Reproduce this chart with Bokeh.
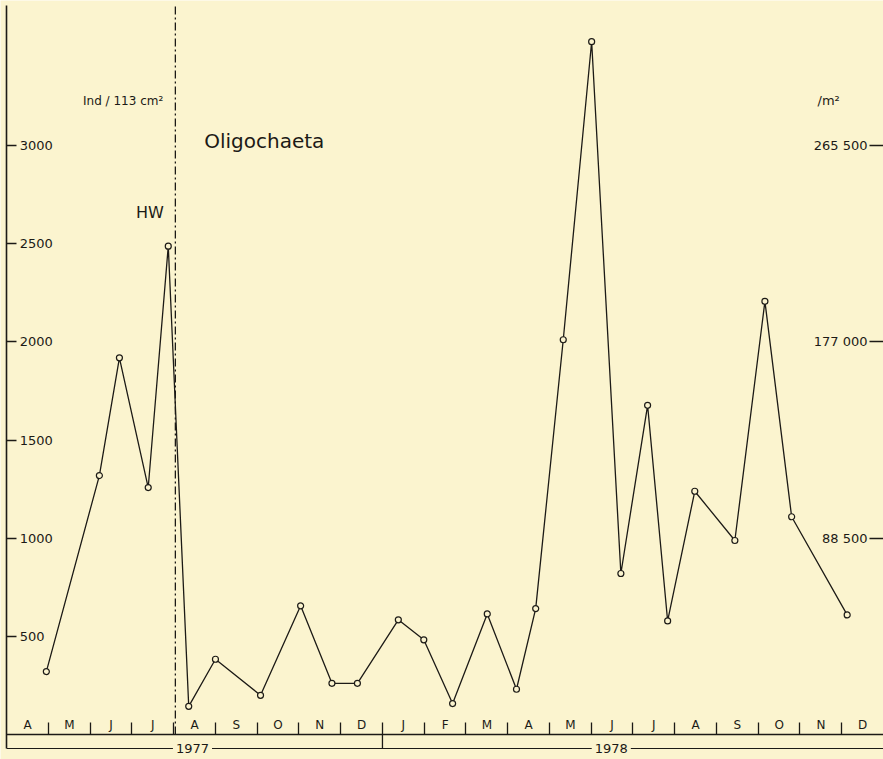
from bokeh.plotting import figure
from bokeh.models import LinearAxis, FixedTicker, Range1d, Label, ColumnDataSource, Grid
from bokeh.embed import file_html
from bokeh.resources import INLINE

# ---- data ----
month_labels = ["A", "M", "J", "J", "A", "S", "O", "N", "D",
                "J", "F", "M", "A", "M", "J", "J", "A", "S", "O", "N", "D"]
year_labels = ["1977", "1978"]
# sampling time, in months since 1 April 1977
sample_month = [0.95, 2.22, 2.70, 3.39, 3.87, 4.36, 5.00, 6.08, 7.04, 7.79, 8.40,
                9.38, 9.99, 10.68, 11.51, 12.21, 12.67, 13.33, 14.01, 14.71,
                15.35, 15.83, 16.48, 17.44, 18.16, 18.80, 20.13]
# individuals per 113 cm2
ind_per_113cm2 = [320, 1319, 1919, 1258, 2488, 143, 383, 199, 655, 260, 260,
                  584, 482, 157, 614, 230, 641, 2011, 3530, 820,
                  1677, 578, 1239, 988, 2207, 1109, 609]
left_ticks = [500, 1000, 1500, 2000, 2500, 3000]
right_ticks = [1000, 2000, 3000]
right_tick_labels = ["88 500", "177 000", "265 500"]
hw_month = 4.04  # high water mark

bg = "#fbf4cf"
ink = "#1c1a16"
font = "DejaVu Sans"

p = figure(width=883, height=759,
           x_range=Range1d(-0.148, 21.0), y_range=Range1d(-128, 3740),
           output_backend="svg", toolbar_location=None,
           x_axis_location=None, y_axis_location=None,
           min_border=0, min_border_left=0, min_border_right=0,
           min_border_top=0, min_border_bottom=0,
           background_fill_color=bg, border_fill_color=bg,
           outline_line_color=None)
for r in list(p.center):
    if isinstance(r, Grid):
        r.visible = False

# left axis: drawn at x=0, ticks and labels towards the inside
la = LinearAxis(fixed_location=0, ticker=FixedTicker(ticks=left_ticks),
                bounds=(-72, 3715),
                major_tick_in=0, major_tick_out=10,
                minor_tick_in=0, minor_tick_out=0,
                major_label_standoff=3,
                major_label_text_font=font, major_label_text_font_size="13px",
                major_label_text_color=ink,
                axis_line_color=ink, axis_line_width=1.6,
                major_tick_line_color=ink, major_tick_line_width=1.3)
p.add_layout(la, "right")

# right axis (/m2): at the right edge, labels towards the inside
ra = LinearAxis(fixed_location=21.0, ticker=FixedTicker(ticks=right_ticks),
                major_label_overrides={t: s for t, s in zip(right_ticks, right_tick_labels)},
                major_tick_in=0, major_tick_out=14,
                minor_tick_in=0, minor_tick_out=0,
                major_label_standoff=2,
                major_label_text_font=font, major_label_text_font_size="13px",
                major_label_text_color=ink,
                axis_line_color=None,
                major_tick_line_color=ink, major_tick_line_width=1.3)
p.add_layout(ra, "left")

# month axis along the zero line, letters above it, separators as minor ticks
centers = [i + 0.5 for i in range(len(month_labels))]
ma = LinearAxis(fixed_location=0,
                ticker=FixedTicker(ticks=centers,
                                   minor_ticks=list(range(1, len(month_labels)))),
                major_label_overrides={c: m for c, m in zip(centers, month_labels)},
                bounds=(0, len(month_labels)),
                major_tick_in=0, major_tick_out=0,
                minor_tick_in=0, minor_tick_out=12,
                major_label_standoff=-10,
                major_label_text_font=font, major_label_text_font_size="12px",
                major_label_text_color=ink,
                axis_line_color=ink, axis_line_width=1.3,
                minor_tick_line_color=ink, minor_tick_line_width=1.3)
p.add_layout(ma, "above")

# year row
p.line([0, len(month_labels)], [-72, -72], line_color=ink, line_width=1.2)
p.line([9, 9], [0, -72], line_color=ink, line_width=1.3)
year_centers = [4.45, 14.48]
for yc, yl in zip(year_centers, year_labels):
    p.add_layout(Label(x=yc, y=-72, text=yl, text_align="center",
                       text_baseline="middle", text_font=font,
                       text_font_size="13px", text_color=ink,
                       background_fill_color=bg, padding=3))

# high-water dash-dot line
p.line([hw_month, hw_month], [0, 3715], line_color=ink, line_width=1.3,
       line_dash="8 3 2 3")

# data
src = ColumnDataSource(dict(x=sample_month, y=ind_per_113cm2))
p.line("x", "y", source=src, line_color=ink, line_width=1.3)
p.scatter("x", "y", source=src, size=6, fill_color=bg, line_color=ink,
          line_width=1.2)

# texts
p.add_layout(Label(x=3.75, y=3230, text="Ind / 113 cm²", text_align="right",
                   text_baseline="middle", text_font=font,
                   text_font_size="12px", text_color=ink))
p.add_layout(Label(x=19.42, y=3230, text="/m²", text_align="left",
                   text_baseline="middle", text_font=font,
                   text_font_size="13px", text_color=ink))
p.add_layout(Label(x=3.43, y=2659, text="HW", text_align="center",
                   text_baseline="middle", text_font=font,
                   text_font_size="16px", text_color=ink))
p.add_layout(Label(x=4.73, y=3025, text="Oligochaeta", text_align="left",
                   text_baseline="middle", text_font=font,
                   text_font_size="20px", text_color=ink))

open("out.html", "w").write(file_html(p, INLINE))
